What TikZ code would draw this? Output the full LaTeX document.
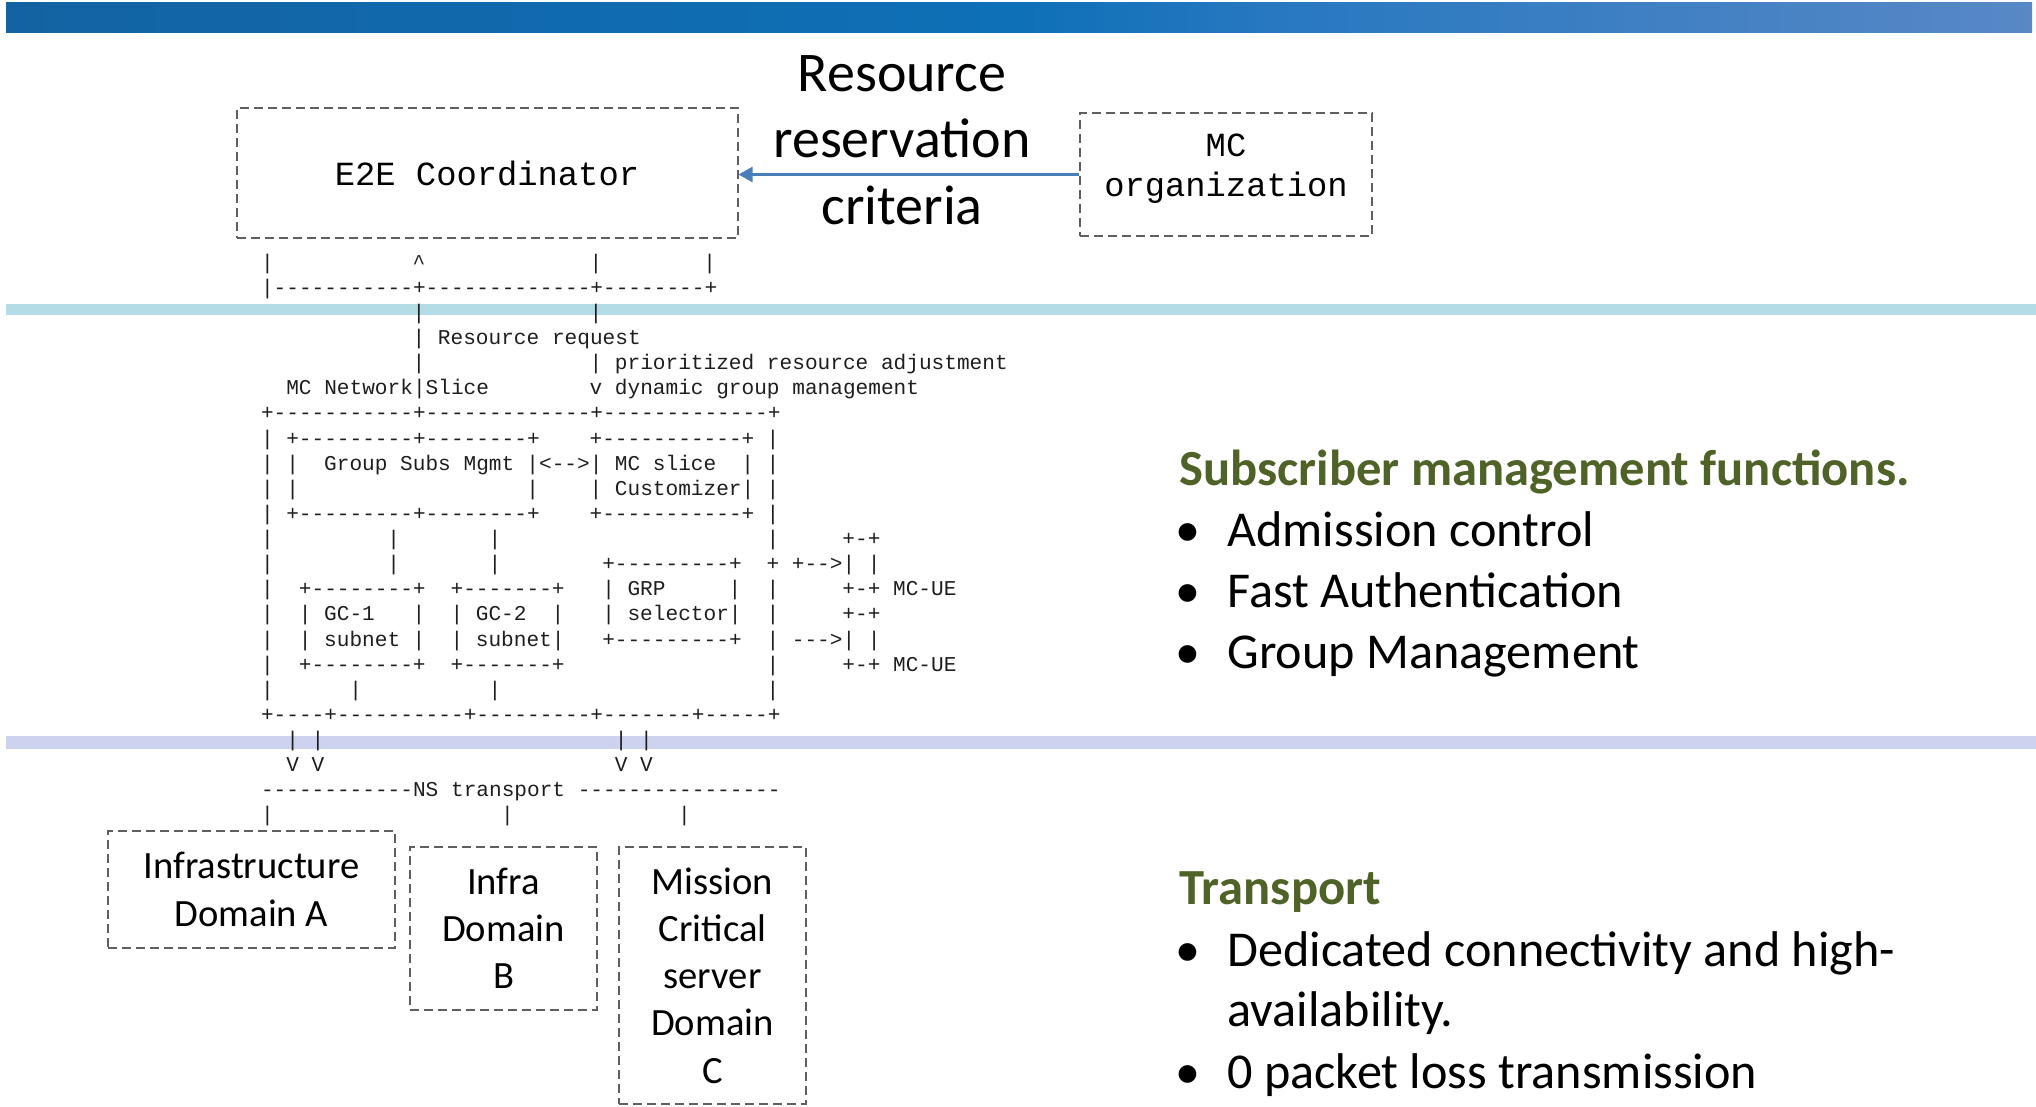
\documentclass[tikz,border=0pt]{standalone}
\usepackage{fontspec}
\setmainfont{Carlito}
\setmonofont{Liberation Mono}
\usetikzlibrary{arrows.meta}
\definecolor{olivetxt}{RGB}{79,98,40}
\definecolor{bandcyan}{RGB}{180,220,230}
\definecolor{bandlav}{RGB}{205,210,238}
\definecolor{arrowblue}{RGB}{74,126,187}
\definecolor{dashgray}{RGB}{95,95,95}
\definecolor{asciitext}{RGB}{30,30,30}
\definecolor{hA}{RGB}{24,86,142}
\definecolor{hB}{RGB}{14,112,183}
\definecolor{hC}{RGB}{38,120,192}
\definecolor{hD}{RGB}{88,136,198}
\definecolor{hE}{RGB}{140,166,211}
\pgfdeclarehorizontalshading{hdr}{100bp}{color(0bp)=(hA); color(50bp)=(hB); color(56bp)=(hC); color(75bp)=(hD); color(100bp)=(hE)}
\begin{document}
\begin{tikzpicture}[x=0.5pt,y=-0.5pt,
  asc/.style={anchor=base west, inner sep=0pt, outer sep=0pt, font=\ttfamily\fontsize{10.56pt}{12pt}\selectfont, text=asciitext},
  dbox/.style={draw=dashgray, line width=1pt, dash pattern=on 4.5pt off 2.5pt, inner sep=0pt},
  domtxt/.style={dbox, align=center, font=\fontsize{19.3pt}{23.6pt}\selectfont},
  bodytxt/.style={anchor=base west, inner sep=0pt, font=\fontsize{25.1pt}{30pt}\selectfont},
  headtxt/.style={anchor=base west, inner sep=0pt, font=\bfseries\fontsize{25.3pt}{30pt}\selectfont, text=olivetxt},
  bul/.style={anchor=base, inner sep=0pt, font=\fontsize{25pt}{30pt}\selectfont},
  bigmono/.style={font=\ttfamily\fontsize{16.9pt}{20pt}\selectfont},
  rrc/.style={anchor=base, inner sep=0pt, font=\fontsize{28pt}{33pt}\selectfont}]
\useasboundingbox (0,0) rectangle (2036,1107);
% header bar and bands
\shade[shading=hdr] (6,3) rectangle (2032,33);
\fill[bandcyan] (6,304) rectangle (2036,315);
\fill[bandlav] (6,736) rectangle (2036,749);

% E2E coordinator and MC organization
\node[dbox, bigmono, minimum width=250.5pt, minimum height=65pt] (e2e) at (487,173) {E2E~Coordinator};
\node[dbox, minimum width=146pt, minimum height=61.5pt] (mco) at (1226,174.5) {};
\node[bigmono, anchor=base, inner sep=0pt] (mco1) at (1226,157) {MC};
\node[bigmono, anchor=base, inner sep=0pt] (mco2) at (1226,197) {organization};
\draw[arrowblue, line width=1.2pt, -{Triangle[length=7pt,width=7.5pt]}] (mco.west) -- (mco.west -| e2e.east);
\node[rrc] (rr1) at (902,92) {Resource};
\node[rrc] (rr2) at (902,158) {reservation};
\node[rrc] (rr3) at (902,225) {criteria};

% ASCII art
\foreach \c/\r/\t [count=\i] in {
0/-3/|,12/-3/\textasciicircum,26/-3/|,35/-3/|,
0/-2/|-----------+-------------+--------+,
12/-1/|,26/-1/|,
12/0/|,14/0/Resource~request,
12/1/|,26/1/|,28/1/prioritized~resource~adjustment,
2/2/MC~Network|Slice,26/2/v,28/2/dynamic~group~management,
0/3/+-----------+-------------+-------------+,
0/4/|,2/4/+---------+--------+,26/4/+-----------+,40/4/|,
0/5/|,2/5/|,5/5/Group~Subs~Mgmt,21/5/|<-->|,28/5/MC~slice,38/5/|,40/5/|,
0/6/|,2/6/|,21/6/|,26/6/|,28/6/Customizer|,40/6/|,
0/7/|,2/7/+---------+--------+,26/7/+-----------+,40/7/|,
0/8/|,10/8/|,18/8/|,40/8/|,46/8/+-+,
0/9/|,10/9/|,18/9/|,27/9/+---------+,40/9/+,42/9/+-->|~|,
0/10/|,3/10/+--------+,15/10/+-------+,27/10/|,29/10/GRP,37/10/|,40/10/|,46/10/+-+~MC-UE,
0/11/|,3/11/|,5/11/GC-1,12/11/|,15/11/|,17/11/GC-2,23/11/|,27/11/|,29/11/selector|,40/11/|,46/11/+-+,
0/12/|,3/12/|,5/12/subnet,12/12/|,15/12/|,17/12/subnet|,27/12/+---------+,40/12/|,42/12/--->|~|,
0/13/|,3/13/+--------+,15/13/+-------+,40/13/|,46/13/+-+~MC-UE,
0/14/|,7/14/|,18/14/|,40/14/|,
0/15/+----+----------+---------+-------+-----+,
2/16/|,4/16/|,28/16/|,30/16/|,
2/17/V,4/17/V,28/17/V,30/17/V,
0/18/------------NS~transport~----------------,
0/19/|,19/19/|,33/19/|}
{\node[asc, name=t\i] at ({261+12.64*\c},{338+25.13*(\r)+6.5}) {\t};}

% domain boxes
\node[domtxt, minimum width=143.5pt, minimum height=58.5pt] (doma) at (251.5,889.5) {Infrastructure\\Domain A};
\node[domtxt, minimum width=93.5pt, minimum height=81.5pt] (domb) at (503.5,928.5) {Infra\\Domain\\B};
\node[domtxt, minimum width=93.5pt, minimum height=128.5pt] (domc) at (712.5,975.5) {Mission\\Critical\\server\\Domain\\C};

% right side text
\node[headtxt] (h1) at (1179,485) {Subscriber management functions.};
\node[bul] (b1) at (1188,546) {•};
\node[bodytxt] (i1) at (1227,546) {Admission control};
\node[bul] (b2) at (1188,607) {•};
\node[bodytxt] (i2) at (1227,607) {Fast Authentication};
\node[bul] (b3) at (1188,668) {•};
\node[bodytxt] (i3) at (1227,668) {Group Management};
\node[headtxt] (h2) at (1179,904) {Transport};
\node[bul] (b4) at (1188,966) {•};
\node[bodytxt] (i4) at (1227,966) {Dedicated connectivity and high-};
\node[bodytxt] (i5) at (1227,1026) {availability.};
\node[bul] (b5) at (1188,1088) {•};
\node[bodytxt] (i6) at (1227,1088) {0 packet loss transmission};
\end{tikzpicture}
\end{document}
